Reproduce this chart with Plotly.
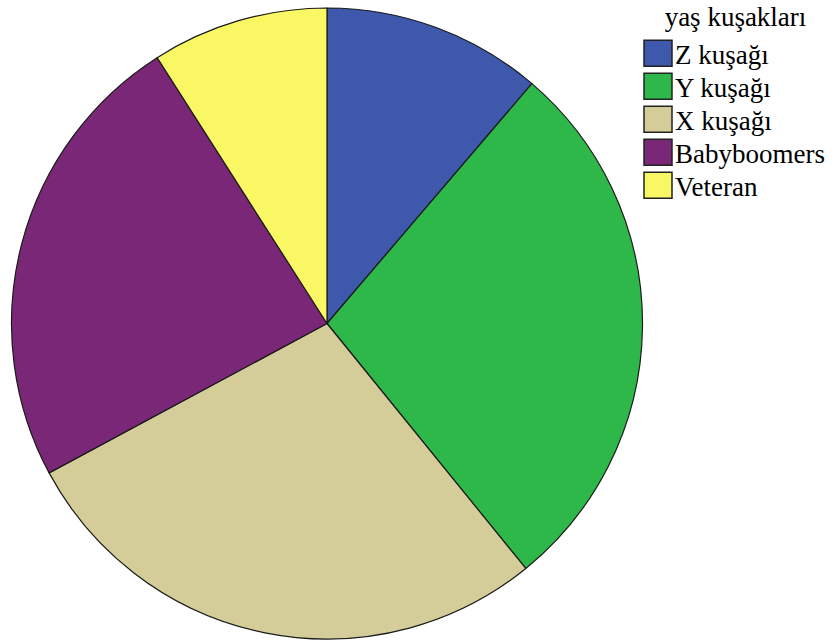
import plotly.graph_objects as go

categories = ["Z kuşağı", "Y kuşağı", "X kuşağı", "Babyboomers", "Veteran"]
values = [11.25, 27.9, 28.0, 23.8, 9.05]
colors = ["#3E58AC", "#2FB84A", "#D4CC99", "#7B2778", "#FAF765"]

W, H = 835, 643
fig = go.Figure(go.Pie(
    labels=categories,
    values=values,
    sort=False,
    direction="clockwise",
    rotation=0,
    textinfo="none",
    marker=dict(colors=colors, line=dict(color="#1a1a1a", width=1.2)),
    domain=dict(x=[11 / W, 643 / W], y=[4 / H, 635 / H]),
))

fig.update_layout(
    width=W, height=H,
    margin=dict(l=0, r=0, t=0, b=0),
    paper_bgcolor="white",
    font=dict(family="Liberation Serif", color="black"),
    legend=dict(
        x=638 / W, y=1.0, xanchor="left", yanchor="top",
        font=dict(size=27, family="Liberation Serif", color="black"),
        title=dict(text="yaş kuşakları", side="top center",
                   font=dict(size=27, family="Liberation Serif")),
        tracegroupgap=0,
        itemwidth=30,
        bgcolor="rgba(0,0,0,0)",
    ),
)

post = """
document.body.style.margin = '0';
var gd = document.getElementById('{plot_id}');
var RE = /translate\\(([-\\d.]+),\\s*([-\\d.]+)\\)/;
function orig(el, key, val) {
  if (el.dataset[key] === undefined) { el.dataset[key] = String(val); }
  return parseFloat(el.dataset[key]);
}
function styleLegend() {
  gd.querySelectorAll('.legendpoints path').forEach(function (p) {
    p.setAttribute('d', 'M14,13H-14V-13H14Z');
    p.style.strokeWidth = '1.5px';
    p.style.stroke = '#222';
  });
  gd.querySelectorAll('.legendtext').forEach(function (t) {
    t.setAttribute('x', '37');
  });
  var items = gd.querySelectorAll('.legend .traces');
  if (items.length) {
    var m = RE.exec(items[0].getAttribute('transform') || '');
    if (m) {
      var x0 = parseFloat(m[1]);
      var y0 = orig(items[0], 'oy', parseFloat(m[2]));
      items.forEach(function (it, i) {
        it.setAttribute('transform', 'translate(' + x0 + ',' + (y0 + i * 33) + ')');
      });
    }
  }
  var leg = gd.querySelector('.legend');
  if (leg) {
    var lm = RE.exec(leg.getAttribute('transform') || '');
    if (lm) {
      var ly = orig(leg, 'oy', parseFloat(lm[2]));
      leg.setAttribute('transform', 'translate(' + lm[1] + ',' + (ly - 6) + ')');
    }
  }
  var title = gd.querySelector('.legend .legendtitletext');
  if (title) {
    var ty = orig(title, 'oy', parseFloat(title.getAttribute('y') || '0'));
    title.setAttribute('y', String(ty - 3));
  }
}
styleLegend();
setTimeout(styleLegend, 0);
"""

fig.write_html("out.html", post_script=post, config={"displayModeBar": False})
